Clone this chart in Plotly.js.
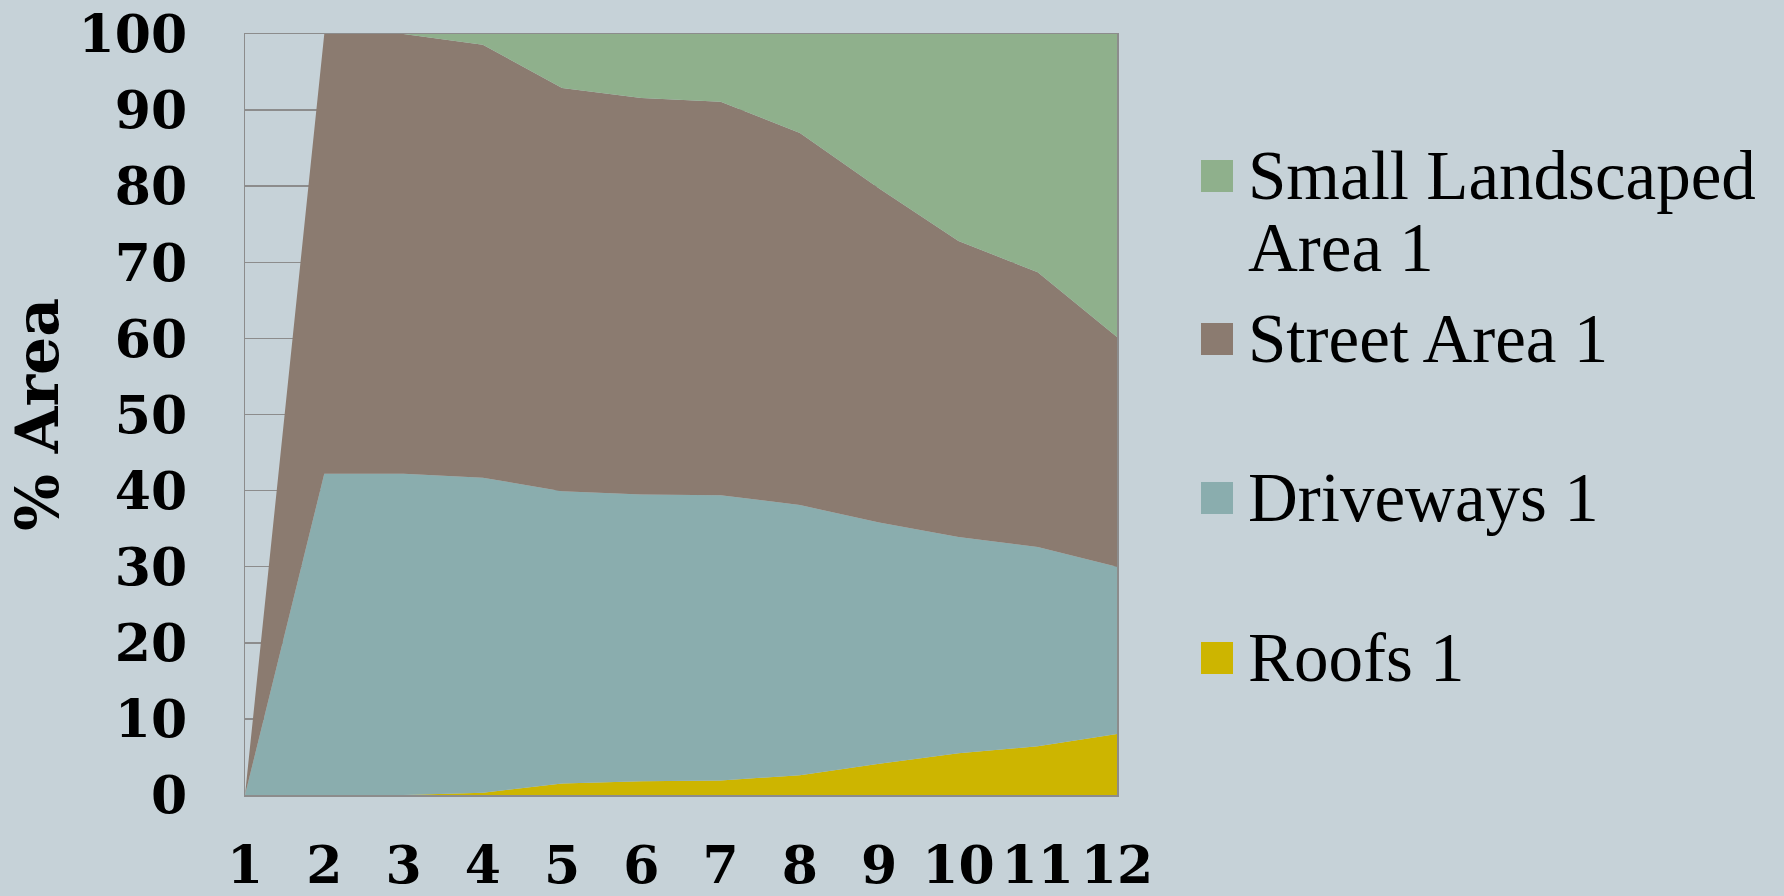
<!DOCTYPE html>
<html><head><meta charset="utf-8">
<script src="https://cdn.plot.ly/plotly-3.0.1.min.js"></script>
<style>html,body{margin:0;padding:0;background:#c6d2d8;}</style>
</head><body><div id="chart" style="width:1784px;height:896px;"></div>
<script>
const xValues = [1,2,3,4,5,6,7,8,9,10,11,12];
const xTickLabels = ['1','2','3','4','5','6','7','8','9','10','11','12'];
const yTickValues = [0,10,20,30,40,50,60,70,80,90,100];

const roofs      = [0, 0,    0,    0.3,  1.5,  1.8,  1.9,  2.6,  4.1,  5.5,  6.4,  8.0];
const driveways  = [0, 42.2, 42.2, 41.4, 38.4, 37.7, 37.5, 35.5, 31.7, 28.4, 26.2, 22.0];
const street     = [0, 57.8, 57.8, 56.9, 53.0, 52.1, 51.7, 48.9, 43.9, 38.9, 36.1, 30.2];
const landscaped = [0, 0,    0,    1.4,  7.1,  8.4,  8.9,  13.0, 20.3, 27.2, 31.3, 39.8];

const seriesNames  = ['Roofs 1', 'Driveways 1', 'Street Area 1', 'Small Landscaped Area 1'];
const seriesColors = ['#cdb500', '#8aadae', '#8b7b70', '#8fb08c'];
const seriesValues = [roofs, driveways, street, landscaped];

// legend: top to bottom, with wrapped label lines
const legendOrder = [3, 2, 1, 0];
const legendLines = [['Small Landscaped', 'Area 1'], ['Street Area 1'], ['Driveways 1'], ['Roofs 1']];

const traces = seriesValues.map((vals, i) => ({
  type: 'scatter', mode: 'lines', x: xValues, y: vals,
  name: seriesNames[i], stackgroup: 'one',
  line: {width: 0, color: seriesColors[i]},
  fillcolor: seriesColors[i], showlegend: false, hoverinfo: 'x+y+name'
}));

// geometry of the plot area in pixels
const W = 1784, H = 896;
const L = 245, R = 1117, T = 34, B = 795;
const pw = R - L, ph = B - T;
const px2x = p => (p - L) / pw;
const py2y = p => (B - p) / ph;

const legendCentersY = [176, 339, 498, 658];
const lineGap = 72;
const shapes = [], annotations = [];
legendOrder.forEach((si, k) => {
  const cy = legendCentersY[k];
  shapes.push({type: 'rect', xref: 'paper', yref: 'paper',
    x0: px2x(1201), x1: px2x(1233), y0: py2y(cy + 16), y1: py2y(cy - 16),
    fillcolor: seriesColors[si], line: {width: 0}});
  legendLines[k].forEach((txt, j) => {
    annotations.push({xref: 'paper', yref: 'paper', x: px2x(1246), y: py2y(cy + j * lineGap),
      xanchor: 'left', yanchor: 'middle', showarrow: false, text: txt,
      font: {family: 'Liberation Serif, serif', size: 69, color: '#000'}});
  });
});

const layout = {
  width: W, height: H,
  paper_bgcolor: '#c6d2d8', plot_bgcolor: '#c6d2d8',
  margin: {l: L, r: W - R, t: T, b: H - B, pad: 0},
  showlegend: false,
  xaxis: {
    range: [1, 12], tickvals: xValues, ticktext: xTickLabels, tickangle: 0,
    showgrid: false, zeroline: false, ticks: '', ticklabelstandoff: 24,
    showline: true, linecolor: '#8c8c8c', linewidth: 1.5, mirror: true,
    tickfont: {family: 'DejaVu Serif, serif', size: 52, color: '#000', weight: 'bold'}
  },
  yaxis: {
    range: [0, 100], tickvals: yTickValues, showgrid: true, gridcolor: '#8c8c8c', gridwidth: 1.5,
    zeroline: false, ticks: '', ticklabelstandoff: 46,
    showline: true, linecolor: '#8c8c8c', linewidth: 1.5, mirror: true,
    tickfont: {family: 'DejaVu Serif, serif', size: 52, color: '#000', weight: 'bold'},
    title: {text: '% Area', standoff: 0, font: {family: 'DejaVu Serif, serif', size: 60, color: '#000', weight: 'bold'}}
  },
  shapes: shapes, annotations: annotations
};

Plotly.newPlot('chart', traces, layout, {displayModeBar: false, staticPlot: true});
</script>
</body></html>
